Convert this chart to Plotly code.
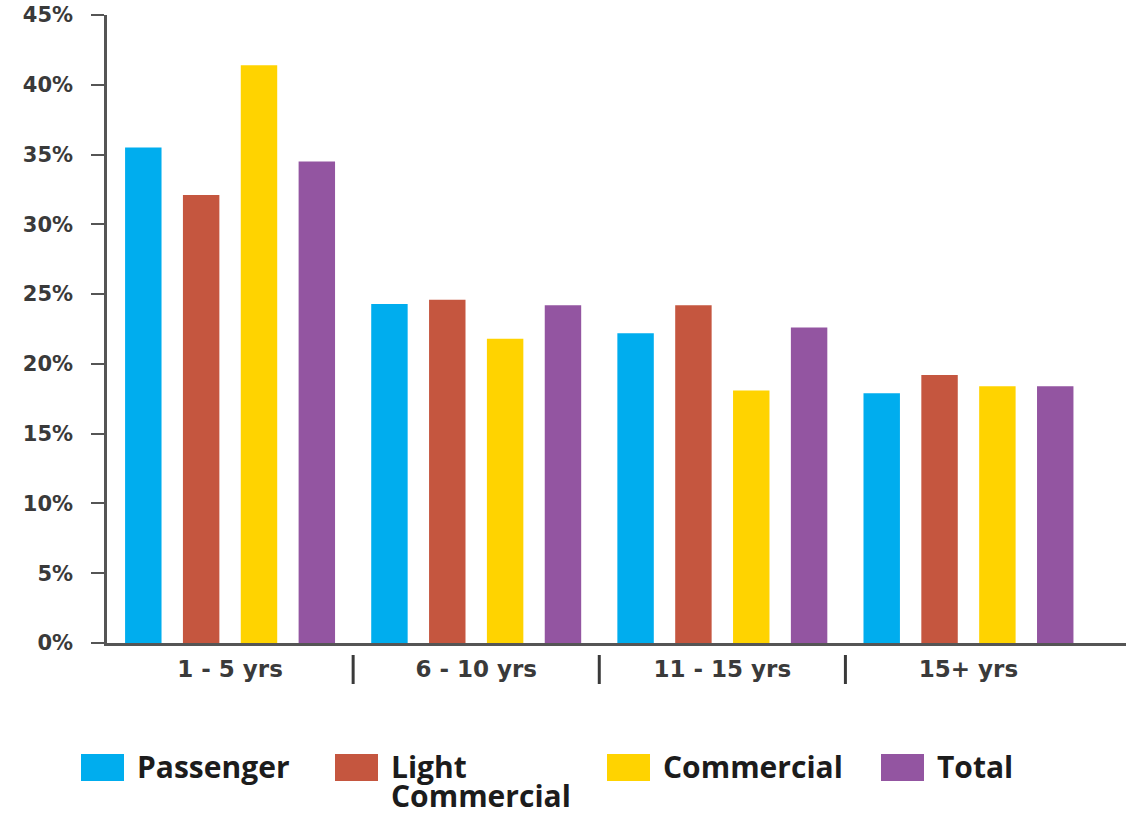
import plotly.graph_objects as go

# Vehicle age distribution by vehicle class
age_groups = ["1 - 5 yrs", "6 - 10 yrs", "11 - 15 yrs", "15+ yrs"]
series_names = ["Passenger", "Light<br>Commercial", "Commercial", "Total"]
passenger = [35.5, 24.3, 22.2, 17.9]
light_commercial = [32.1, 24.6, 24.2, 19.2]
commercial = [41.4, 21.8, 18.1, 18.4]
total = [34.5, 24.2, 22.6, 18.4]
y_ticks = [0, 5, 10, 15, 20, 25, 30, 35, 40, 45]
y_tick_labels = [f"{v}%" for v in y_ticks]

series_values = [passenger, light_commercial, commercial, total]
colors = ["#00ADEE", "#C5563F", "#FFD300", "#9355A1"]

W, H = 1126, 818
M_L, M_R, M_T, M_B = 107, 0, 15, 175
plot_w = W - M_L - M_R
plot_h = H - M_T - M_B


def px_to_paper(px, py):
    """Convert page pixel coordinates to paper coordinates."""
    return (px - M_L) / plot_w, (H - M_B - py) / plot_h


fig = go.Figure()
for name, vals, col in zip(series_names, series_values, colors):
    fig.add_trace(go.Bar(
        x=age_groups, y=vals, name=name.replace("<br>", " "),
        marker=dict(color=col, line=dict(width=0)),
        showlegend=False,
    ))

# Separators between age groups, below the axis
shapes = []
for i in range(len(age_groups) - 1):
    _, y0 = px_to_paper(0, 655)
    _, y1 = px_to_paper(0, 684)
    shapes.append(dict(type="line", xref="x", yref="paper",
                       x0=i + 0.5, x1=i + 0.5, y0=y0, y1=y1,
                       line=dict(color="#3a3a3a", width=3)))

# Hand-built legend with wide colour swatches; multi-line names are
# stacked one line at a time for tighter line spacing
legend_x = [81, 335, 607, 881]
LEGEND_TOP = 754
LINE_STEP = 29
annotations = []
for name, col, lx in zip(series_names, colors, legend_x):
    x0, y0 = px_to_paper(lx, LEGEND_TOP)
    x1, y1 = px_to_paper(lx + 43, LEGEND_TOP + 27)
    shapes.append(dict(type="rect", xref="paper", yref="paper",
                       x0=x0, x1=x1, y0=y1, y1=y0,
                       fillcolor=col, line=dict(width=0)))
    for k, line in enumerate(name.split("<br>")):
        tx, ty = px_to_paper(lx + 54, LEGEND_TOP - 10 + k * LINE_STEP)
        annotations.append(dict(
            x=tx, y=ty, xref="paper", yref="paper",
            text=f"<b>{line}</b>", showarrow=False,
            xanchor="left", yanchor="top", align="left",
            font=dict(family="Open Sans", size=30, color="#1c1c1c"),
        ))

tick_font = dict(family="DejaVu Sans", color="#3a3a3a", weight="bold")

fig.update_layout(
    width=W, height=H,
    margin=dict(l=M_L, r=M_R, t=M_T, b=M_B, pad=0),
    paper_bgcolor="white", plot_bgcolor="white",
    barmode="group", bargap=0.06, bargroupgap=0.37,
    shapes=shapes, annotations=annotations,
    xaxis=dict(
        range=[-0.5, 3.64], showgrid=False, zeroline=False,
        showline=True, linecolor="#555555", linewidth=2.5,
        ticks="", ticklabelstandoff=4,
        tickfont=dict(size=23, **tick_font),
    ),
    yaxis=dict(
        range=[0, 45], tickvals=y_ticks, ticktext=y_tick_labels,
        showgrid=False, zeroline=False,
        showline=True, linecolor="#555555", linewidth=2.5,
        ticks="outside", ticklen=13, tickwidth=2, tickcolor="#555555",
        ticklabelstandoff=14,
        tickfont=dict(size=21, **tick_font),
    ),
)

fig.write_html("out.html")
